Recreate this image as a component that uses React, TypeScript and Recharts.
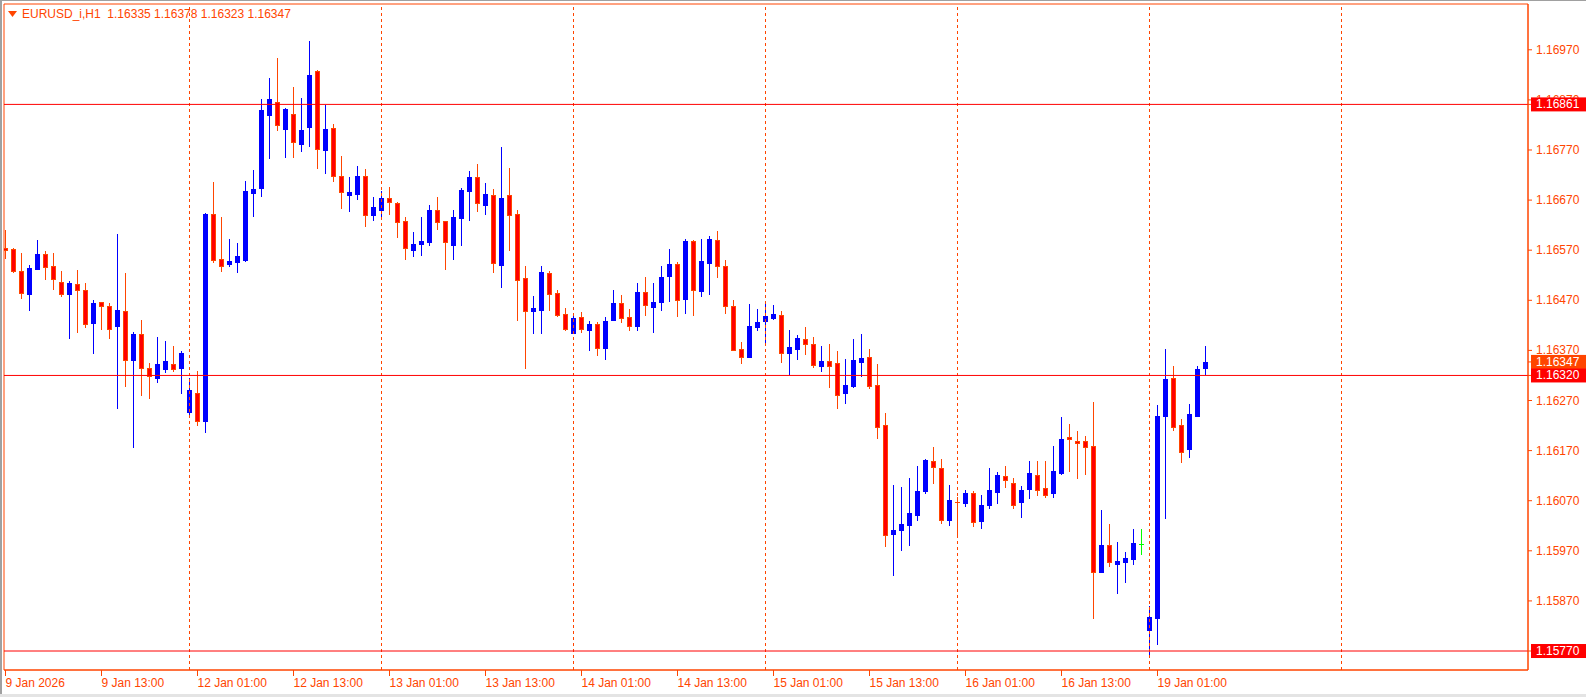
import { Bar, ComposedChart, ReferenceArea, ReferenceLine, XAxis, YAxis } from "recharts";

const ORANGE = "#FF4500";
const RED = "#FF0000";
const BLUE = "#0000FF";
const GREEN = "#00FF00";
const FONT = '"Liberation Sans", Arial, sans-serif';

const title = "EURUSD_i,H1  1.16335 1.16378 1.16323 1.16347";

// H1 bars, 9 Jan 01:00 .. 19 Jan 07:00 (index = bar number)
const opens = [
	1.16575, 1.16572, 1.16528, 1.16483, 1.16533, 1.16562, 1.16538, 1.16506, 1.16483, 1.16502, 1.1649, 1.16425, 1.16466, 1.16458, 1.16419, 1.16448, 1.16351, 1.16403, 1.16334, 1.16314, 1.16333, 1.16342, 1.16335,
	1.16248, 1.16284, 1.1623, 1.16642, 1.16552, 1.16542, 1.16547, 1.1655, 1.16685, 1.16695, 1.1684, 1.16865, 1.16812, 1.16841, 1.16782, 1.16815, 1.16928, 1.1677, 1.16813, 1.16718, 1.16681, 1.16683, 1.16718, 1.1664,
	1.16651, 1.16674, 1.16664, 1.16628, 1.16571, 1.16583, 1.16587, 1.1665, 1.16628, 1.16581, 1.16635, 1.16689, 1.16717, 1.16661, 1.1668, 1.16541, 1.1668, 1.16642, 1.16514, 1.16449, 1.16451, 1.16524, 1.16484, 1.16443,
	1.16405, 1.16436, 1.16411, 1.16423, 1.16375, 1.16431, 1.16465, 1.16436, 1.16419, 1.16487, 1.16457, 1.16467, 1.16519, 1.16542, 1.16473, 1.16588, 1.16489, 1.16545, 1.1659, 1.16538, 1.16459, 1.16373, 1.16357, 1.16417,
	1.16429, 1.16435, 1.16441, 1.16365, 1.16373, 1.16392, 1.16383, 1.16339, 1.16349, 1.16345, 1.16284, 1.16298, 1.16347, 1.16357, 1.16301, 1.16221, 1.16004, 1.16011, 1.16022, 1.16042, 1.1609, 1.16149, 1.16135, 1.16032,
	1.16068, 1.16066, 1.16085, 1.1603, 1.16062, 1.16088, 1.16119, 1.16105, 1.16068, 1.16094, 1.16121, 1.16095, 1.16086, 1.16126, 1.16197, 1.16189, 1.16189, 1.16179, 1.15928, 1.15982, 1.15944, 1.15948, 1.15954, 1.15983,
	1.15812, 1.15836, 1.16239, 1.16315, 1.16221, 1.16173, 1.1624, 1.16335,
];
const highs = [
	1.1661, 1.16574, 1.16564, 1.1654, 1.1659, 1.16568, 1.16564, 1.16528, 1.16508, 1.1653, 1.16504, 1.16471, 1.16466, 1.16465, 1.16602, 1.16524, 1.16407, 1.16431, 1.16345, 1.16397, 1.16389, 1.16379, 1.16369,
	1.16314, 1.16329, 1.16644, 1.16707, 1.16637, 1.16592, 1.16584, 1.16708, 1.1673, 1.16872, 1.16914, 1.16954, 1.16854, 1.16896, 1.16874, 1.16988, 1.16929, 1.1686, 1.16822, 1.16759, 1.16716, 1.16738, 1.16732, 1.16676,
	1.16689, 1.16697, 1.16666, 1.16636, 1.16606, 1.16636, 1.1666, 1.16676, 1.16628, 1.1665, 1.16694, 1.16728, 1.16742, 1.16704, 1.16692, 1.16776, 1.16734, 1.1665, 1.16538, 1.16479, 1.16538, 1.16529, 1.16491, 1.16455,
	1.16438, 1.16447, 1.16429, 1.16426, 1.16437, 1.16491, 1.16481, 1.16453, 1.16505, 1.16516, 1.16505, 1.16538, 1.16572, 1.16546, 1.16592, 1.1659, 1.16592, 1.16598, 1.16608, 1.1655, 1.16471, 1.16387, 1.16463, 1.16453,
	1.16462, 1.16461, 1.16449, 1.16411, 1.16401, 1.16417, 1.16397, 1.16379, 1.16383, 1.16369, 1.16353, 1.16393, 1.16403, 1.16373, 1.16343, 1.16245, 1.16101, 1.16097, 1.16115, 1.16139, 1.16153, 1.16177, 1.16153, 1.16101,
	1.16077, 1.16091, 1.16089, 1.16081, 1.16135, 1.16127, 1.16139, 1.16115, 1.16099, 1.16149, 1.16149, 1.16149, 1.16179, 1.16237, 1.16223, 1.16209, 1.16199, 1.16267, 1.16052, 1.16024, 1.15988, 1.15968, 1.16014, 1.16013,
	1.1586, 1.16261, 1.16373, 1.16339, 1.16233, 1.16263, 1.16339, 1.16378,
];
const lows = [
	1.16554, 1.16526, 1.16475, 1.16451, 1.16532, 1.16512, 1.16493, 1.16479, 1.16395, 1.16407, 1.16417, 1.16365, 1.16413, 1.16395, 1.16256, 1.16298, 1.16178, 1.1628, 1.16274, 1.16306, 1.16327, 1.16329, 1.16284,
	1.16244, 1.16222, 1.16208, 1.16547, 1.16528, 1.16539, 1.16527, 1.16549, 1.16638, 1.16678, 1.16755, 1.1681, 1.16756, 1.16756, 1.16767, 1.16778, 1.16735, 1.16725, 1.16709, 1.16655, 1.16649, 1.16673, 1.16619, 1.16631,
	1.16633, 1.16642, 1.16596, 1.16552, 1.16559, 1.16561, 1.16581, 1.16612, 1.16533, 1.16553, 1.16581, 1.16631, 1.16649, 1.16643, 1.16527, 1.16497, 1.1657, 1.16431, 1.16334, 1.16405, 1.16405, 1.16451, 1.16439, 1.16411,
	1.16404, 1.16407, 1.16371, 1.16361, 1.16353, 1.1643, 1.16427, 1.16411, 1.16411, 1.16441, 1.16407, 1.16451, 1.16469, 1.16439, 1.16445, 1.16441, 1.16479, 1.16483, 1.16517, 1.16445, 1.1637, 1.16345, 1.16356, 1.16411,
	1.16381, 1.16433, 1.16347, 1.16323, 1.16353, 1.16363, 1.16337, 1.16329, 1.16296, 1.16256, 1.16266, 1.16296, 1.16319, 1.16295, 1.16196, 1.1598, 1.15922, 1.15972, 1.15982, 1.16032, 1.16086, 1.16106, 1.16026, 1.16022,
	1.16003, 1.1606, 1.1602, 1.16016, 1.16056, 1.16066, 1.16097, 1.16056, 1.16038, 1.16076, 1.16082, 1.16078, 1.16078, 1.16124, 1.1613, 1.16116, 1.16124, 1.15836, 1.15928, 1.1594, 1.15886, 1.15908, 1.15944, 1.15964,
	1.15764, 1.15783, 1.16036, 1.16212, 1.16148, 1.16158, 1.1624, 1.16323,
];
const closes = [
	1.16571, 1.16528, 1.16484, 1.16534, 1.16562, 1.16537, 1.16512, 1.16483, 1.16504, 1.1649, 1.16423, 1.16465, 1.16458, 1.16413, 1.16451, 1.16351, 1.16403, 1.16334, 1.16318, 1.16342, 1.16349, 1.16333, 1.16365,
	1.16291, 1.1623, 1.16642, 1.1655, 1.16539, 1.16548, 1.16559, 1.16688, 1.16692, 1.1685, 1.16872, 1.16819, 1.16852, 1.16785, 1.1681, 1.1692, 1.16771, 1.16812, 1.16719, 1.16686, 1.16686, 1.16718, 1.1664, 1.16656,
	1.16674, 1.16666, 1.16626, 1.16575, 1.16582, 1.16588, 1.1665, 1.16627, 1.16587, 1.16636, 1.1669, 1.16716, 1.16664, 1.16682, 1.16544, 1.16674, 1.1664, 1.16511, 1.16449, 1.16455, 1.16527, 1.16483, 1.16441, 1.16413,
	1.16435, 1.16412, 1.16423, 1.16375, 1.16429, 1.16465, 1.16435, 1.16419, 1.16487, 1.16461, 1.16467, 1.16516, 1.16542, 1.16471, 1.16588, 1.1649, 1.16548, 1.16592, 1.16538, 1.16459, 1.16371, 1.16357, 1.16419, 1.16427,
	1.16439, 1.16443, 1.16364, 1.16377, 1.16395, 1.16382, 1.16341, 1.16349, 1.16338, 1.1628, 1.16301, 1.16351, 1.16355, 1.16298, 1.16218, 1.16002, 1.16011, 1.16023, 1.16045, 1.16089, 1.16151, 1.16138, 1.16032, 1.16071,
	1.16067, 1.16085, 1.16028, 1.16061, 1.16091, 1.16121, 1.16111, 1.16062, 1.16091, 1.16125, 1.16091, 1.16081, 1.16129, 1.16193, 1.16193, 1.16185, 1.16177, 1.15927, 1.15982, 1.15948, 1.1595, 1.15956, 1.15986, 1.15983,
	1.15838, 1.16239, 1.16313, 1.16218, 1.16168, 1.16243, 1.16333, 1.16347,
];

const tickBars = [0, 12, 24, 36, 48, 60, 72, 84, 96, 108, 120, 132, 144];
const tickLabels = [
	"9 Jan 2026", "9 Jan 13:00", "12 Jan 01:00", "12 Jan 13:00", "13 Jan 01:00", "13 Jan 13:00",
	"14 Jan 01:00", "14 Jan 13:00", "15 Jan 01:00", "15 Jan 13:00", "16 Jan 01:00", "16 Jan 13:00", "19 Jan 01:00",
];
const separatorBars = [23, 47, 71, 95, 119, 143, 167];
const priceTicks = [1.1587, 1.1597, 1.1607, 1.1617, 1.1627, 1.1637, 1.1647, 1.1657, 1.1667, 1.1677, 1.1687, 1.1697];
const levelPrices = [1.16861, 1.1632, 1.1577];
const bidPrice = 1.16347;

const X_DOMAIN: [number, number] = [-0.1875, 190.3125];
const Y_DOMAIN: [number, number] = [1.157321, 1.170614];

const candles = opens.map((open, i) => ({ i, open, high: highs[i], low: lows[i], close: closes[i] }));

function Candle(props: any) {
	const { x, y, width, height, payload } = props;
	const { open, high, low, close } = payload;
	const ratio = height / (high - low);
	const yOf = (p: number) => Math.round(y + (high - p) * ratio);
	const cx = Math.floor(x + width / 2);
	const top = yOf(Math.max(open, close));
	const bottom = yOf(Math.min(open, close));
	const bh = Math.max(bottom - top, 0) + 1;
	const wickTop = yOf(high);
	const wickH = yOf(low) - wickTop + 1;

	if (open === close) {
		return (
			<g>
				<rect x={cx} y={wickTop} width={1} height={wickH} fill={GREEN} />
				<rect x={cx - 2} y={top} width={5} height={1} fill={GREEN} />
			</g>
		);
	}
	if (close > open) {
		return (
			<g>
				<rect x={cx} y={wickTop} width={1} height={wickH} fill={BLUE} />
				<rect x={cx - 2} y={top} width={5} height={bh} fill={BLUE} />
			</g>
		);
	}
	return (
		<g>
			<rect x={cx} y={wickTop} width={1} height={wickH} fill={ORANGE} />
			<rect x={cx - 2} y={top} width={5} height={bh} fill={ORANGE} />
			{bh > 2 && <rect x={cx - 1} y={top + 1} width={3} height={bh - 2} fill={RED} />}
		</g>
	);
}

function TimeTick(props: any) {
	const { x, y, payload } = props;
	const label = tickLabels[tickBars.indexOf(payload.value)];
	return (
		<text x={x} y={y} dy={9} fill={ORANGE} fontSize={12} fontFamily={FONT} textAnchor="start">
			{label}
		</text>
	);
}

function PriceTick(props: any) {
	const { x, y, payload } = props;
	const v = payload.value as number;
	const label = v.toFixed(5);
	const boxed = levelPrices.includes(v) || v === bidPrice;
	if (boxed) {
		return (
			<g>
				<rect x={x - 5} y={y - 7} width={60} height={14} fill={v === bidPrice ? ORANGE : RED} />
				<text x={x} y={y} dy={4} fill="#FFFFFF" fontSize={12} fontFamily={FONT} textAnchor="start">
					{label}
				</text>
			</g>
		);
	}
	return (
		<text x={x} y={y} dy={4} fill={ORANGE} fontSize={12} fontFamily={FONT} textAnchor="start">
			{label}
		</text>
	);
}

export default function App() {
	return (
		<div style={{ position: "absolute", left: 0, top: 0, width: 1586, height: 697, background: "#fff", overflow: "hidden" }}>
			<div style={{ position: "absolute", left: 0, top: 0, width: 2, height: 697, background: "#a0a0a0" }} />
			<div style={{ position: "absolute", left: 0, top: 0, width: 1586, height: 1, background: "#a0a0a0" }} />
			<div style={{ position: "absolute", left: 0, top: 694, width: 1586, height: 3, background: "#e4e4e4" }} />
			<ComposedChart
				width={1586}
				height={697}
				data={candles}
				margin={{ top: 4, right: 0, bottom: 0, left: 4 }}
			>
				<XAxis
					dataKey="i"
					type="number"
					domain={X_DOMAIN}
					allowDataOverflow
					ticks={tickBars}
					interval={0}
					height={27}
					tickSize={6}
					tickMargin={2}
					axisLine={{ stroke: ORANGE }}
					tickLine={{ stroke: ORANGE }}
					tick={<TimeTick />}
				/>
				<YAxis
					orientation="right"
					type="number"
					domain={Y_DOMAIN}
					allowDataOverflow
					ticks={[...priceTicks, bidPrice, ...levelPrices]}
					interval={0}
					width={58}
					tickSize={4}
					tickMargin={4}
					axisLine={{ stroke: ORANGE }}
					tickLine={{ stroke: ORANGE }}
					tick={<PriceTick />}
				/>
				<ReferenceArea
					x1={X_DOMAIN[0]}
					x2={X_DOMAIN[1]}
					y1={Y_DOMAIN[0]}
					y2={Y_DOMAIN[1]}
					fill="none"
					stroke={ORANGE}
					ifOverflow="visible"
				/>
				{separatorBars.map((b) => (
					<ReferenceLine key={`sep-${b}`} x={b} stroke={ORANGE} strokeDasharray="3 3" />
				))}
				{levelPrices.map((p) => (
					<ReferenceLine key={`lvl-${p}`} y={p} stroke={RED} />
				))}
				<Bar
					dataKey={(d: any) => [d.low, d.high]}
					barSize={5}
					isAnimationActive={false}
					shape={(p: any) => <Candle {...p} />}
				/>
			</ComposedChart>
			<svg style={{ position: "absolute", left: 8, top: 11 }} width={10} height={7}>
				<polygon points="0,0 9,0 4.5,6" fill={ORANGE} />
			</svg>
			<div
				style={{
					position: "absolute",
					left: 22,
					top: 7,
					fontFamily: FONT,
					fontSize: 12,
					lineHeight: "14px",
					color: ORANGE,
					whiteSpace: "pre",
				}}
			>
				{title}
			</div>
		</div>
	);
}
